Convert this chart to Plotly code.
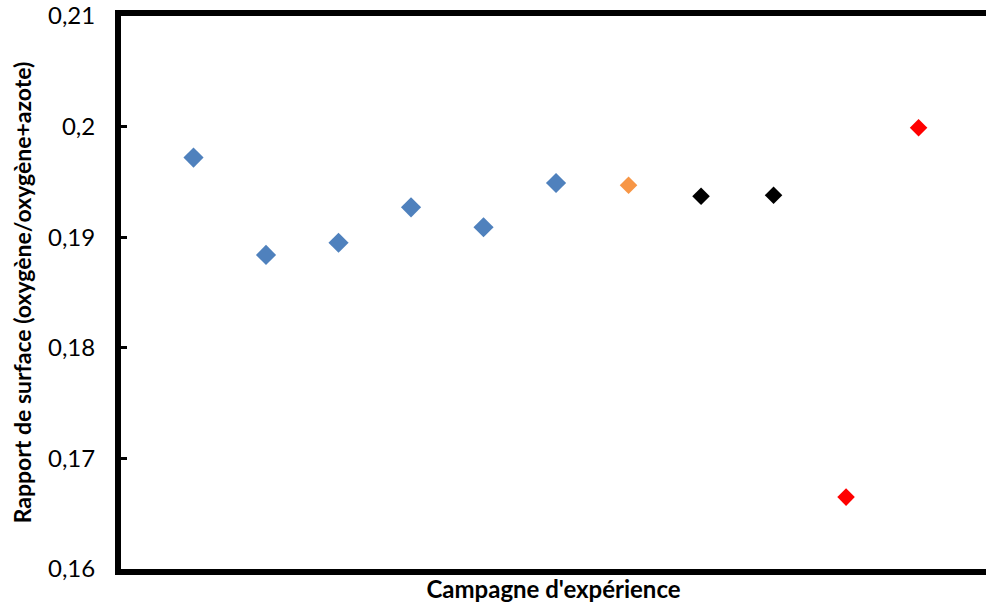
import plotly.graph_objects as go

campaign = [1, 2, 3, 4, 5, 6, 7, 8, 9, 10, 11]
ratio = [0.1972, 0.1884, 0.1895, 0.1927, 0.1909, 0.1949, 0.1947, 0.1937, 0.1938, 0.1665, 0.1999]
colors = ["#4F81BD"] * 6 + ["#F79646", "#000000", "#000000", "#FF0000", "#FF0000"]
sizes = [15.5] * 6 + [13.5] * 5

ytick_vals = [0.16, 0.17, 0.18, 0.19, 0.2, 0.21]
ytick_text = ["0,16", "0,17", "0,18", "0,19", "0,2", "0,21"]

fig = go.Figure()
fig.add_trace(go.Scatter(
    x=campaign, y=ratio, mode="markers",
    marker=dict(symbol="diamond", color=colors, size=sizes, opacity=1, line=dict(width=0)),
    showlegend=False, hoverinfo="y",
))

font = "Lato, Carlito, 'Open Sans', sans-serif"
fig.update_layout(
    width=986, height=605,
    margin=dict(l=121, r=0, t=16, b=36),
    paper_bgcolor="white", plot_bgcolor="white",
    font=dict(family=font, color="black"),
    xaxis=dict(
        range=[0, 11.93], showgrid=False, zeroline=False, showticklabels=False,
        ticks="", showline=True, linecolor="black", linewidth=6, mirror=True,
        title=dict(text="<b>Campagne d'expérience</b>", font=dict(size=24), standoff=9),
    ),
    yaxis=dict(
        range=[0.16, 0.21], showgrid=False, zeroline=False,
        tickvals=ytick_vals, ticktext=ytick_text,
        ticks="inside", ticklen=6, tickwidth=3, tickcolor="black",
        tickfont=dict(size=24), ticklabelstandoff=15,
        showline=True, linecolor="black", linewidth=6,
        title=dict(text="<b>Rapport de surface (oxygène/oxygène+azote)</b>", font=dict(size=23), standoff=12),
    ),
)
fig.write_html(
    "out.html",
    config={"displayModeBar": False},
    post_script="document.body.style.margin='0';document.body.style.overflow='hidden';",
)
